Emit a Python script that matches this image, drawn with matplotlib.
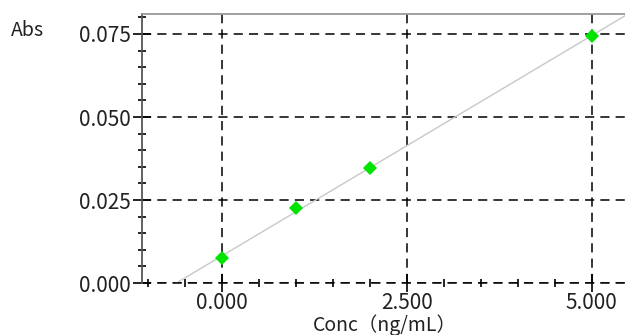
# Calibration curve: Abs vs Conc
from matplotlib import pyplot as plt
from matplotlib.ticker import MultipleLocator, FormatStrFormatter
import numpy as np

# data
conc = [0.0, 1.0, 2.0, 5.0]
absorb = [0.0074, 0.0225, 0.0348, 0.0743]
xticks = [0.0, 2.5, 5.0]
yticks = [0.0, 0.025, 0.050, 0.075]

# linear fit through the standards
slope, icpt = np.polyfit(conc, absorb, 1)

fig = plt.figure(figsize=(6.25, 3.35), dpi=100)
ax = fig.add_axes([0.2265, 0.155, 0.7735, 0.803])

ax.set_xlim(-1.09, 5.45)
ax.set_ylim(0, 0.081)

xl = np.array([-1.09, 5.45])
ax.plot(xl, slope * xl + icpt, color='#c8c8c8', linewidth=1, zorder=2)
ax.plot(conc, absorb, 'D', color='#00e400', markersize=7.5,
        markeredgewidth=0, zorder=3)

# dashed grid
ax.set_xticks(xticks)
ax.set_yticks(yticks)
ax.grid(True, color='k', linestyle=(0, (6, 4)), linewidth=1.1)
ax.set_axisbelow(True)
ax.xaxis.set_minor_locator(MultipleLocator(0.5))
ax.yaxis.set_minor_locator(MultipleLocator(0.005))
ax.xaxis.set_major_formatter(FormatStrFormatter('%.3f'))
ax.yaxis.set_major_formatter(FormatStrFormatter('%.3f'))

ax.tick_params(which='major', direction='inout', length=13, width=1.2,
               color='k')
ax.tick_params(which='minor', direction='inout', length=6, width=1.2,
               color='k')
ax.tick_params(axis='both', labelsize=15, pad=1)
ax.tick_params(axis='x', pad=0)
for lb in ax.get_xticklabels() + ax.get_yticklabels():
    lb.set_family('Noto Sans CJK JP')
    lb.set_color('#222222')

ax.spines['right'].set_visible(False)
ax.spines['bottom'].set_visible(False)
ax.spines['left'].set_color('#555555')
ax.spines['left'].set_linewidth(1.3)
ax.spines['top'].set_color('#999999')
ax.spines['top'].set_linewidth(1.3)
ax.axhline(0, color='k', linestyle=(0, (6, 4)), linewidth=1.1, clip_on=False)

fig.text(0.018, 0.91, 'Abs', fontsize=14, family='Noto Sans CJK JP',
         color='#222222', va='center', ha='left')
fig.text(0.615, 0.028, 'Conc（ng/mL）', fontsize=14, family='Noto Sans CJK JP',
         color='#222222', va='center', ha='center')

plt.savefig('out.png', dpi=100)
